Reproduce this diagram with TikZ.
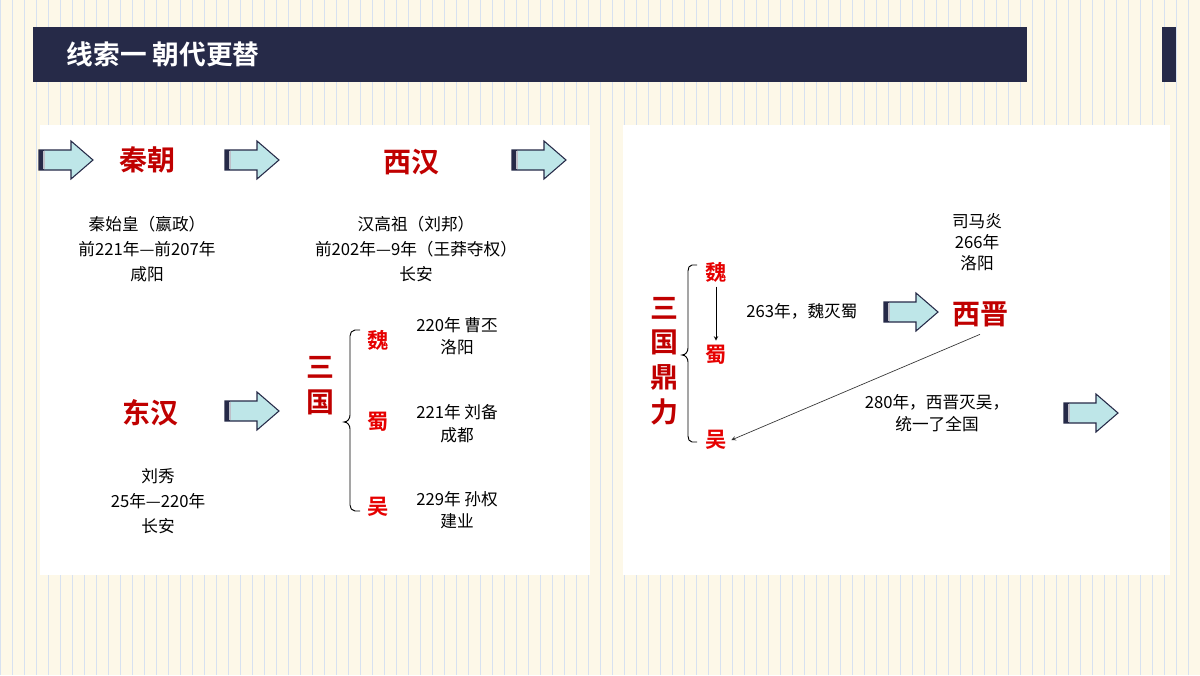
\documentclass[tikz,border=0pt]{standalone}
\usepackage{fontspec}
\setmainfont{Noto Sans CJK SC}
\newfontfamily\cjkbold{Noto Sans CJK SC Bold}
\usetikzlibrary{positioning}
\definecolor{navy}{RGB}{38,42,72}
\definecolor{darkred}{RGB}{192,0,0}
\definecolor{brightred}{RGB}{230,0,0}
\definecolor{arrowfill}{RGB}{190,230,232}
\definecolor{cream}{RGB}{253,248,232}
\definecolor{gridblue}{RGB}{215,225,240}
\tikzset{
  barrow/.pic={
    \fill[arrowfill,draw=navy,line width=0.8pt] (-27,-10) -- (5,-10) -- (5,-19) -- (27,0) -- (5,19) -- (5,10) -- (-27,10) -- cycle;
    \fill[navy] (-27,-10) rectangle (-22,10);
    \fill[white!70!navy] (-23,-9) rectangle (-21.5,9);
  },
  head/.style={font=\cjkbold\fontsize{21}{21}\selectfont, text=darkred},
  king/.style={font=\cjkbold\fontsize{16}{16}\selectfont, text=brightred},
  info/.style={font=\fontsize{12.5}{19}\selectfont, align=center},
}
\begin{document}
\begin{tikzpicture}[x=0.75pt,y=-0.75pt]
  \useasboundingbox (0,0) rectangle (1200,675);
  % background
  \fill[cream] (0,0) rectangle (1200,675);
  \draw[gridblue,line width=0.4pt,step=12] (0,0) grid (1200,675);
  \fill[white] (40,125) rectangle (590,575);
  \fill[white] (623,125) rectangle (1170,575);
  % title
  \fill[navy] (33,27) rectangle (1027,82);
  \fill[navy] (1162,27) rectangle (1176,82);
  \node[anchor=west, text=white, font=\cjkbold\fontsize{20}{20}\selectfont] (title) at (62,54) {线索一 朝代更替};

  % block arrows
  \foreach \x/\y in {66/160, 252/160, 539/160, 252/411, 911/312, 1091/413}
    \pic at (\x,\y) {barrow};

  % Qin
  \node[head] (qin) at (147,160) {秦朝};
  \node[info] (qininfo) at (147,249) {秦始皇（嬴政）\\前221年—前207年\\咸阳};
  % Western Han
  \node[head] (xihan) at (411,162) {西汉};
  \node[info] (xihaninfo) at (416,249) {汉高祖（刘邦）\\前202年—9年（王莽夺权）\\长安};
  % Eastern Han
  \node[head] (donghan) at (150,413) {东汉};
  \node[info] (donghaninfo) at (158,501) {刘秀\\25年—220年\\长安};

  % Three Kingdoms
  \node[head, align=center, font=\cjkbold\fontsize{21}{26}\selectfont] (sanguo) at (320,386) {三\\国};
  \node[king] (wei) at (378,340) {魏};
  \node[king] (shu) at (378,422) {蜀};
  \node[king] (wu) at (378,507) {吴};
  \node[info, font=\fontsize{12.5}{17}\selectfont] (weiinfo) at (457,336) {220年 曹丕\\洛阳};
  \node[info, font=\fontsize{12.5}{17}\selectfont] (shuinfo) at (457,424) {221年 刘备\\成都};
  \node[info, font=\fontsize{12.5}{17}\selectfont] (wuinfo) at (457,510) {229年 孙权\\建业};
  \draw[line width=0.7pt] (360,330) -- (355,330) to[out=180,in=90] (350,336) -- (350,415) to[out=-90,in=0] (344,422) to[out=0,in=90] (350,429) -- (350,505) to[out=-90,in=180] (355,511) -- (360,511);

  % right panel
  \node[head, align=center, font=\cjkbold\fontsize{21}{26}\selectfont] (dingli) at (664,361) {三\\国\\鼎\\力};
  \node[king] (wei2) at (716,272) {魏};
  \node[king] (shu2) at (716,355) {蜀};
  \node[king] (wu2) at (716,440) {吴};
  \draw[line width=0.7pt] (697,265) -- (692,265) to[out=180,in=90] (688,271) -- (688,348) to[out=-90,in=0] (682,355) to[out=0,in=90] (688,362) -- (688,436) to[out=-90,in=180] (692,442) -- (697,442);
  \draw[->, >=stealth, line width=0.5pt] (wei2) -- (shu2);
  \node[info] (mieshu) at (802,311) {263年，魏灭蜀};
  \node[info, font=\fontsize{12.5}{16}\selectfont] (jininfo) at (977,242) {司马炎\\266年\\洛阳};
  \node[head] (xijin) at (980,314) {西晋};
  \node[info, font=\fontsize{12.5}{17}\selectfont] (miewu) at (937,413) {280年，西晋灭吴，\\统一了全国};
  \draw[->, >=stealth, line width=0.5pt, draw=black!80] (xijin.south) ++(0,3) coordinate (s) (s) -- (wu2.east);
\end{tikzpicture}
\end{document}
